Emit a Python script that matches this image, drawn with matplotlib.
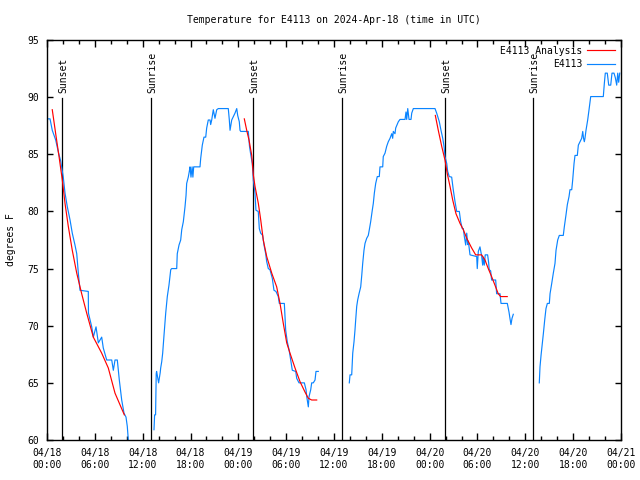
import matplotlib
matplotlib.use("Agg")
import matplotlib.pyplot as plt

# hours since 2024-04-18 00:00 UTC
obs1_h = [0.16, 0.38, 0.66, 1.09, 1.42, 1.72, 2.04, 2.26, 2.55, 2.89, 3.17, 3.51, 3.73, 3.93, 4.14,
          5.18, 5.2, 5.61, 5.81, 6.15, 6.44, 6.86, 7.06, 7.49, 8.12, 8.32, 8.53, 8.82, 9.07, 9.37,
          9.66, 9.91, 10.07, 10.2, 10.25]
obs1_t = [88.1, 88.1, 87.1, 86.25, 85.2, 84.4, 83.0, 81.6, 80.4, 79.25, 78.1, 77.06, 76.3, 74.6, 73.1,
          73.0, 71.1, 69.9, 69.0, 69.9, 68.5, 69.0, 68.05, 67.0, 67.0, 66.1, 67.0, 67.0, 65.25, 63.5,
          62.35, 62.0, 61.2, 60.0, 59.5]

obs2_h = [13.42, 13.5, 13.62, 13.7, 13.75, 13.9, 14.0, 14.2, 14.26, 14.39, 14.51, 14.68, 14.89, 15.09,
          15.30, 15.52, 15.64, 16.27, 16.34, 16.56, 16.77, 16.90, 17.10, 17.31, 17.44, 17.52, 17.72,
          17.85, 17.94, 18.06, 18.2, 18.3, 18.4, 19.19, 19.28, 19.48, 19.69, 19.91, 20.03, 20.23, 20.45,
          20.53, 20.66, 20.86, 21.07, 21.29, 21.49, 22.74, 22.87, 22.96, 23.17, 23.58, 23.80, 23.92,
          24.12, 24.21, 24.30, 25.25, 25.4, 25.55, 25.75, 25.88, 26.09, 26.21, 26.50, 26.63, 26.80,
          27.05, 27.22, 27.43, 27.56, 27.76, 27.97, 28.26, 28.47, 28.72, 29.01, 29.14, 29.77, 29.94,
          30.14, 30.36, 30.57, 30.77, 31.20, 31.32, 31.61, 32.28, 32.49, 32.58, 32.78, 32.87, 33.08,
          33.20, 33.40, 33.62, 33.74, 34.03]
obs2_t = [60.9, 62.2, 62.2, 65.8, 66.0, 65.4, 65.0, 65.9, 66.3, 66.85, 67.6, 69.2, 71.1, 72.55,
          73.55, 74.9, 75.0, 75.0, 76.3, 77.06, 77.5, 78.4, 79.1, 80.4, 81.4, 82.45, 83.0,
          83.5, 83.9, 83.0, 83.9, 83.0, 83.9, 83.9, 84.65, 85.8, 86.5, 86.5, 87.3, 88.0, 88.0,
          87.6, 88.0, 88.9, 88.15, 88.9, 89.0, 89.0, 88.0, 87.1, 88.0, 88.6, 89.0, 88.4,
          87.85, 87.1, 87.0, 87.0, 85.7, 85.0, 84.2, 82.75, 81.6, 80.1, 80.0, 78.5, 78.1,
          77.9, 77.06, 76.3, 75.6, 75.0, 74.9, 74.15, 73.1, 73.0, 72.55, 71.95, 71.95, 69.6,
          68.6, 67.9, 67.0, 66.1, 66.0, 65.4, 65.0, 65.0, 64.4, 63.8, 62.9, 63.8, 64.4,
          65.0, 65.0, 65.25, 66.0, 66.0]

obs3_h = [37.92, 38.01, 38.22, 38.35, 38.51, 38.63, 38.72, 38.85, 38.97, 39.14, 39.35, 39.48, 39.60,
          39.76, 39.89, 40.10, 40.30, 40.43, 40.60, 40.80, 40.93, 41.06, 41.23, 41.43, 41.68, 41.77,
          42.11, 42.18, 42.40, 42.61, 42.81, 43.03, 43.24, 43.36, 43.44, 43.65, 43.74, 44.07, 44.28,
          44.91, 45.03, 45.12, 45.25, 45.41, 45.66, 45.75, 45.95, 48.67, 48.88, 49.21, 49.42, 49.64,
          49.80, 49.92, 50.14, 50.26, 50.46, 50.76, 50.96, 51.18, 51.39, 51.72, 51.89, 52.09, 52.22,
          52.35, 52.52, 52.65, 52.77, 52.85, 53.06, 53.90, 53.97, 54.10, 54.31, 54.52, 54.65, 54.72,
          54.85, 54.97, 55.27, 55.40, 55.47, 55.65, 55.77, 56.28, 56.40, 56.82, 56.95, 57.74, 57.95,
          58.08, 58.20, 58.33, 58.49]
obs3_t = [65.0, 65.7, 65.7, 67.6, 68.6, 69.6, 70.5, 71.7, 72.25, 72.8, 73.4, 74.4, 75.45,
          76.6, 77.2, 77.65, 77.9, 78.4, 79.1, 80.1, 80.7, 81.6, 82.45, 83.05, 83.05, 83.9,
          83.9, 84.8, 85.1, 85.7, 86.1, 86.4, 86.8, 86.4, 87.0, 86.8, 87.3, 87.85, 88.05,
          88.05, 88.7, 88.05, 89.0, 88.05, 88.05, 88.6, 89.0, 89.0, 88.6, 87.85, 87.1, 86.4,
          85.7, 84.8, 84.2, 83.5, 83.05, 83.0, 81.9, 80.85, 80.0, 80.0, 79.1, 78.5, 78.5,
          77.8, 77.06, 78.1, 77.1, 77.4, 76.2, 76.05, 75.0, 76.5, 76.9, 76.1, 75.3, 76.0,
          75.3, 76.2, 76.2, 75.5, 74.9, 74.8, 74.0, 74.0, 72.8, 72.8, 71.95, 71.95, 71.2,
          70.6, 70.1, 70.65, 71.0]

obs4_h = [61.75, 61.84, 61.97, 62.13, 62.26, 62.43, 62.59, 62.76, 63.01, 63.10, 63.31, 63.51, 63.72,
          63.85, 64.06, 64.26, 64.76, 64.89, 65.10, 65.27, 65.48, 65.60, 65.82, 65.94, 66.11, 66.23,
          66.52, 66.65, 66.86, 67.07, 67.20, 67.30, 67.40, 67.48, 67.61, 67.82, 67.99, 68.20, 69.78,
          69.91, 70.03, 70.28, 70.46, 70.71, 70.87, 71.12, 71.29, 71.46, 71.59, 71.71, 71.84]
obs4_t = [65.0, 66.4, 67.4, 68.45, 69.3, 70.5, 71.5, 71.95, 71.95, 72.8, 73.7, 74.6, 75.45,
          76.6, 77.5, 77.9, 77.9, 78.65, 79.7, 80.6, 81.3, 81.9, 81.9, 82.75, 84.2, 84.9,
          84.9, 85.8, 86.1, 86.4, 87.0, 86.4, 86.1, 86.4, 87.1, 88.0, 88.9, 90.05, 90.05,
          91.2, 92.1, 92.1, 91.05, 91.05, 92.1, 92.1, 91.7, 91.05, 92.1, 91.3, 92.1]

fit1_h = [0.66, 1.09, 1.51, 1.92, 2.26, 2.67, 3.17, 3.73, 4.35, 4.98, 5.81, 6.86, 7.69, 8.53, 9.70]
fit1_t = [88.9, 86.8, 84.8, 82.75, 80.7, 78.7, 76.6, 74.6, 72.8, 71.1, 69.0, 67.6, 66.3, 64.1, 62.2]

fit2_h = [24.75, 25.05, 25.34, 25.68, 25.88, 26.09, 26.51, 26.81, 27.13, 27.56, 28.19, 28.81, 29.23,
          29.64, 30.07, 30.48, 31.11, 31.74, 32.36, 32.78, 33.20, 33.83]
fit2_t = [88.1, 87.1, 86.25, 84.9, 83.2, 82.2, 80.7, 79.25, 77.5, 76.05, 74.6, 73.4, 71.95,
          70.2, 68.5, 67.6, 66.3, 65.1, 64.2, 63.65, 63.5, 63.5]

fit3_h = [48.71, 49.08, 49.51, 49.92, 50.21, 50.55, 50.89, 51.30, 51.81, 52.22, 52.65, 53.27, 53.77,
          54.52, 54.94, 55.35, 55.77, 56.19, 56.60, 56.90, 57.73]
fit3_t = [88.4, 87.1, 85.7, 84.5, 83.3, 82.2, 81.0, 79.8, 78.95, 78.4, 77.65, 76.8, 76.2,
          76.2, 75.75, 75.0, 74.3, 73.55, 72.8, 72.55, 72.55]

sun_h = [1.92, 13.05, 25.88, 36.98, 49.97, 60.94]
sun_names = ["Sunset", "Sunrise", "Sunset", "Sunrise", "Sunset", "Sunrise"]

xtick_h = [0, 6, 12, 18, 24, 30, 36, 42, 48, 54, 60, 66, 72]
xtick_labels = ["04/18\n00:00", "04/18\n06:00", "04/18\n12:00", "04/18\n18:00",
                "04/19\n00:00", "04/19\n06:00", "04/19\n12:00", "04/19\n18:00",
                "04/20\n00:00", "04/20\n06:00", "04/20\n12:00", "04/20\n18:00",
                "04/21\n00:00"]

plt.rcParams['font.family'] = ['DejaVu Sans Mono']
plt.rcParams['font.size'] = 7

fig = plt.figure(figsize=(6.4, 4.8), dpi=100)
ax = fig.add_axes([47 / 640, 40 / 480, 574 / 640, 400 / 480])

red = '#ff0000'
blue = '#0a84ff'
for i, (h, t) in enumerate([(fit1_h, fit1_t), (fit2_h, fit2_t), (fit3_h, fit3_t)]):
    ax.plot(h, t, color=red, lw=0.85, label="E4113 Analysis" if i == 0 else None, zorder=3)
for i, (h, t) in enumerate([(obs1_h, obs1_t), (obs2_h, obs2_t), (obs3_h, obs3_t), (obs4_h, obs4_t)]):
    ax.plot(h, t, color=blue, lw=0.85, label="E4113" if i == 0 else None, zorder=2)

for h, name in zip(sun_h, sun_names):
    ax.plot([h, h], [60, 89.95], color='black', lw=0.9, zorder=1)
    ax.text(h + 0.15, 90.4, name, rotation=90, ha='center', va='bottom', fontsize=7)

ax.set_xlim(0, 72)
ax.set_ylim(60, 95)
ax.set_xticks(xtick_h)
ax.set_xticklabels(xtick_labels)
ax.set_xticks(range(0, 73, 2), minor=True)
ax.set_yticks(range(60, 96, 5))
ax.tick_params(which='both', direction='in', top=True, right=True, width=1, labelsize=7)
ax.tick_params(axis='x', which='major', length=5, pad=6)
ax.tick_params(axis='x', which='minor', length=3)
ax.tick_params(axis='y', length=4, pad=6)
for s in ax.spines.values():
    s.set_linewidth(1.0)

ax.set_ylabel("degrees F", fontsize=7, labelpad=8)
fig.text(0.5 + 14 / 640, 1 - 20 / 480, "Temperature for E4113 on 2024-Apr-18 (time in UTC)",
         ha='center', va='center', fontsize=7)

leg = ax.legend(loc='upper right', frameon=False, fontsize=7, handlelength=2.9,
                markerfirst=False, borderaxespad=0.2, labelspacing=0.35, handletextpad=0.5)
for t in leg.get_texts():
    t.set_ha('right')

fig.savefig("out.png", dpi=100)
